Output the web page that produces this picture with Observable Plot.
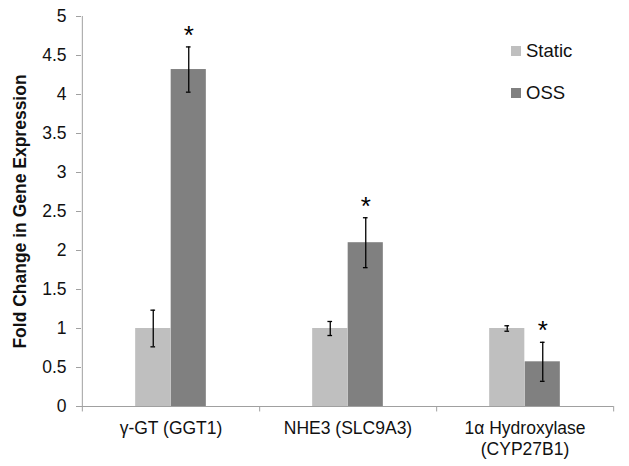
<!DOCTYPE html>
<html>
<head>
<meta charset="utf-8">
<script src="https://cdn.jsdelivr.net/npm/d3@7"></script>
<script src="https://cdn.jsdelivr.net/npm/@observablehq/plot@0.6"></script>
<style>
  html, body { margin: 0; padding: 0; background: #fff; }
  #wrap { position: relative; width: 629px; height: 466px; font-family: Arial, "Liberation Sans", sans-serif; }
  #wrap svg g[aria-label="y-axis label"] text { font-weight: bold; }
  .legend { position: absolute; left: 511px; font-size: 18.5px; color: #111; display: flex; align-items: center; }
  .legend span.sw { width: 10px; height: 10px; display: inline-block; margin-right: 5px; }
</style>
</head>
<body>
<div id="wrap"></div>
<script>
const categories = ["γ-GT (GGT1)", "NHE3 (SLC9A3)", "1α Hydroxylase\n(CYP27B1)"];
const staticMean = [1.0, 1.0, 1.0];
const staticErr = [0.235, 0.09, 0.035];
const ossMean = [4.32, 2.10, 0.573];
const ossErr = [0.29, 0.32, 0.25];
const ossSig = [true, true, true];
const yTicks = [0, 0.5, 1, 1.5, 2, 2.5, 3, 3.5, 4, 4.5, 5];
const seriesNames = ["Static", "OSS"];
const seriesColors = ["#bfbfbf", "#808080"];

const W = 629, H = 466, ML = 81, MR = 16, MT = 16, MB = 60;
const bw = (W - ML - MR) / categories.length;
const barW = 35.5;
const capW = 5;
const FS = 17.5;

const rows = [];
categories.forEach((c, i) => {
  rows.push({cat: c, series: "Static", v: staticMean[i], e: staticErr[i], sig: false});
  rows.push({cat: c, series: "OSS", v: ossMean[i], e: ossErr[i], sig: ossSig[i]});
});
const stat = rows.filter(d => d.series === "Static");
const oss = rows.filter(d => d.series === "OSS");
const axisColor = "#a0a0a0";

function errMarks(data, dx) {
  return [
    Plot.ruleX(data, {x: "cat", y1: d => d.v - d.e, y2: d => d.v + d.e, dx, stroke: "#000", strokeWidth: 1.3}),
    Plot.tickY(data, {x: "cat", y: d => d.v + d.e, dx, insetLeft: (bw - capW) / 2, insetRight: (bw - capW) / 2, stroke: "#000", strokeWidth: 1.3}),
    Plot.tickY(data, {x: "cat", y: d => d.v - d.e, dx, insetLeft: (bw - capW) / 2, insetRight: (bw - capW) / 2, stroke: "#000", strokeWidth: 1.3})
  ];
}

const chart = Plot.plot({
  width: W, height: H,
  marginLeft: ML, marginRight: MR, marginTop: MT, marginBottom: MB,
  style: {fontFamily: 'Arial, "Liberation Sans", sans-serif', fontSize: FS + "px", color: "#111", background: "#fff"},
  x: {domain: categories, padding: 0, label: null},
  y: {domain: [0, 5], label: null},
  marks: [
    Plot.barY(stat, {x: "cat", y: "v", fill: seriesColors[0], insetLeft: bw / 2 - barW, insetRight: bw / 2}),
    Plot.barY(oss, {x: "cat", y: "v", fill: seriesColors[1], insetLeft: bw / 2, insetRight: bw / 2 - barW}),
    ...errMarks(stat, -barW / 2),
    ...errMarks(oss, barW / 2),
    Plot.text(oss.filter(d => d.sig), {x: "cat", y: d => d.v + d.e, text: () => "*", dx: barW / 2, dy: -3, lineAnchor: "bottom", fontSize: 26, fill: "#000"}),
    Plot.ruleY([0], {stroke: axisColor, strokeWidth: 1}),
    Plot.ruleX(categories.slice(0, 1), {x: d => d, dx: -bw / 2, y1: -0.07, y2: 5, stroke: axisColor}),
    Plot.ruleX(categories, {x: d => d, dx: bw / 2, y1: -0.07, y2: 0, stroke: axisColor}),
    Plot.axisY({ticks: yTicks, tickFormat: d => String(d), tickSize: 5, tickPadding: 10, stroke: axisColor, fontSize: FS,
      label: "Fold Change in Gene Expression", labelArrow: "none", labelAnchor: "center", labelOffset: 68}),
    Plot.axisX({tickSize: 0, tickPadding: 13, lineHeight: 1.2, fontSize: FS})
  ]
});
const wrap = document.getElementById("wrap");
wrap.appendChild(chart);
chart.querySelectorAll('g[aria-label="y-axis label"] text').forEach(t => {
  t.textContent = t.textContent.replace(/[↑→]\s*$/, "").trim();
  t.setAttribute("font-size", FS);
  t.setAttribute("font-weight", "bold");
});

seriesNames.forEach((name, i) => {
  const el = document.createElement("div");
  el.className = "legend";
  el.style.top = (i === 0 ? 40 : 82) + "px";
  el.innerHTML = `<span class="sw" style="background:${seriesColors[i]}"></span><span>${name}</span>`;
  wrap.appendChild(el);
});
</script>
</body>
</html>
